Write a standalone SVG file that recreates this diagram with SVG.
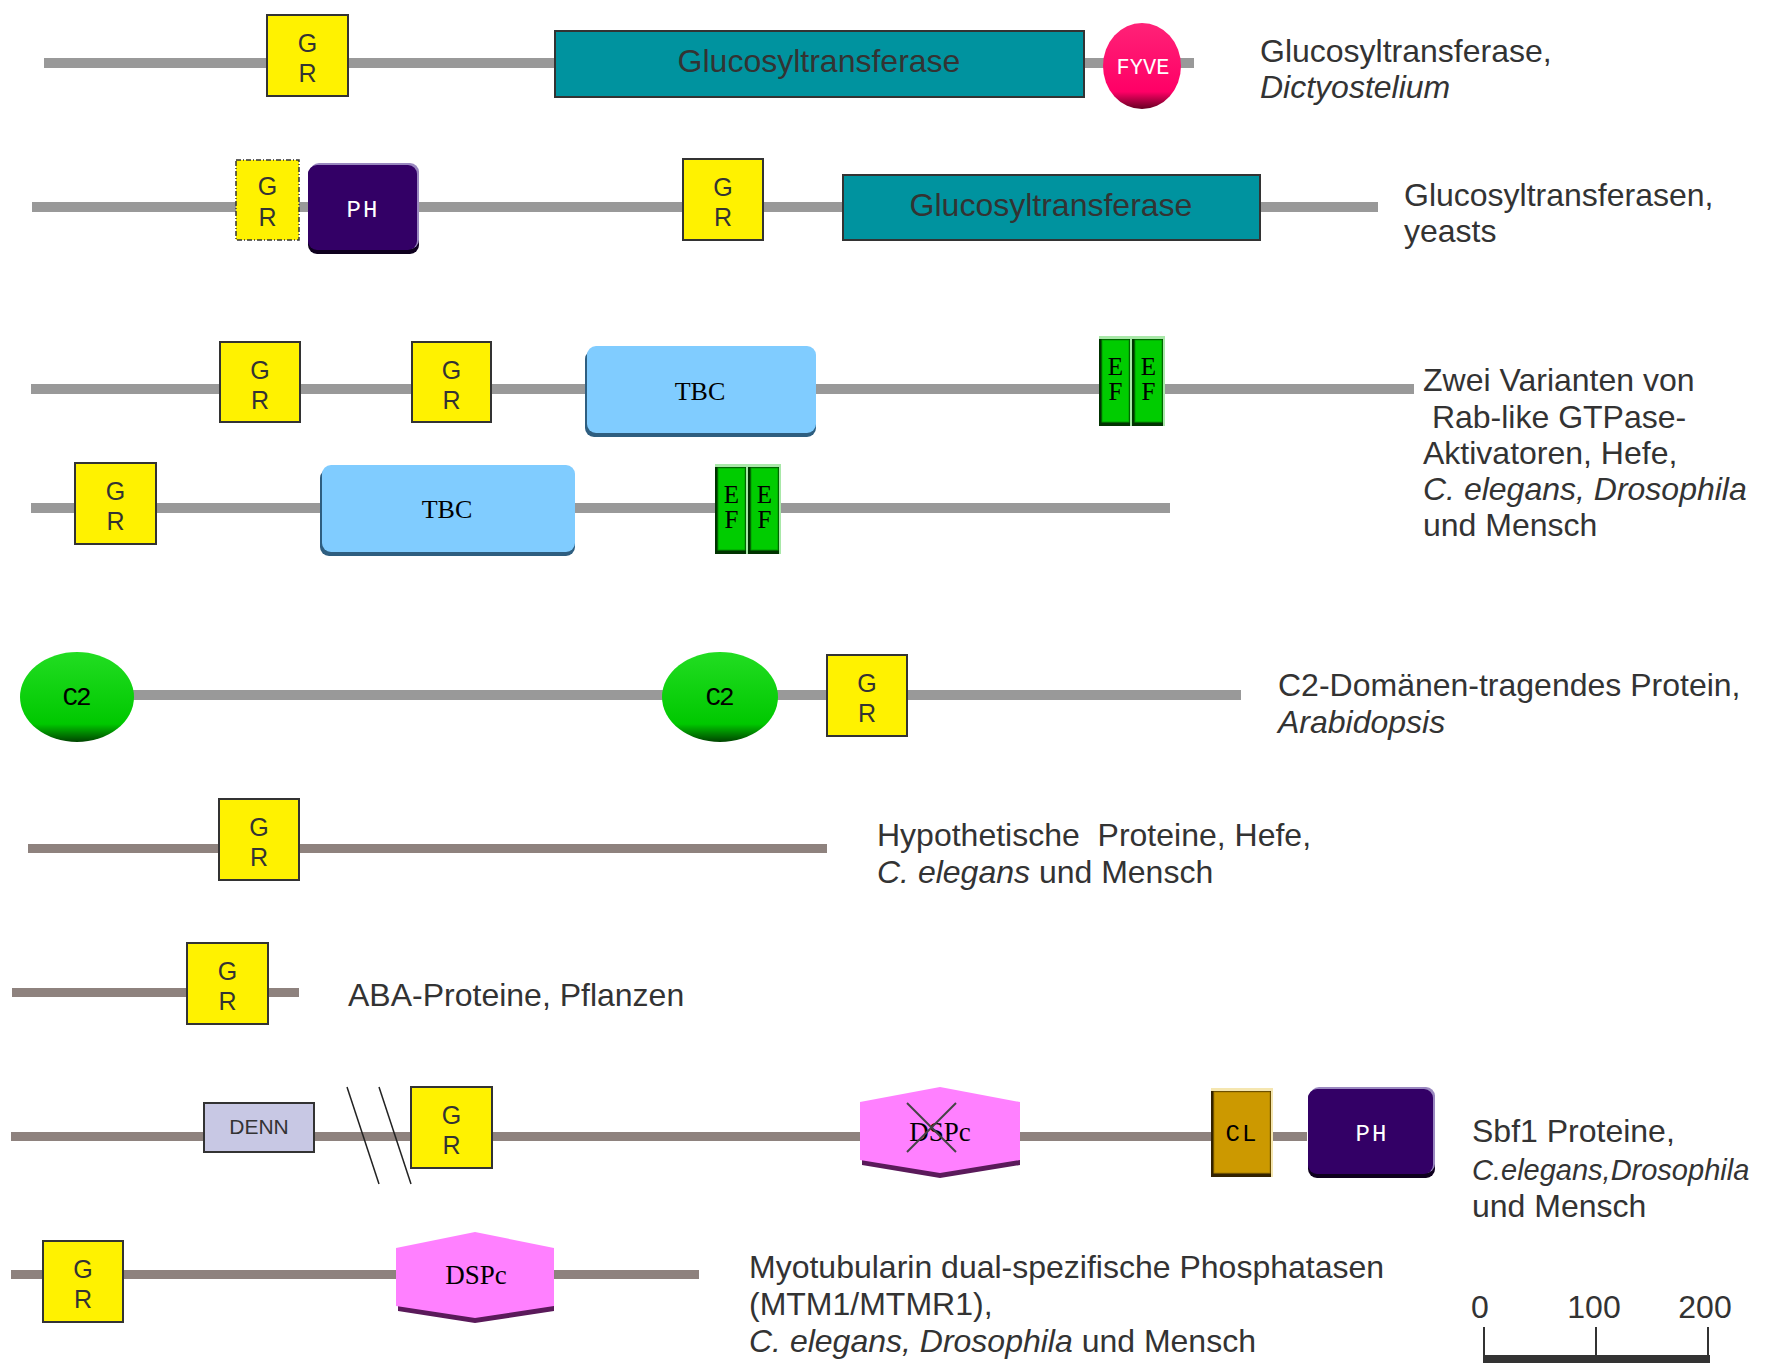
<svg xmlns="http://www.w3.org/2000/svg" width="1774" height="1371" viewBox="0 0 1774 1371">
<defs>
<style>
.lbl{font-family:"Liberation Sans",Arial,sans-serif;font-size:32px;fill:#333333;white-space:pre}
.it{font-style:italic}
.grbox{fill:#FFF200;stroke:#333333;stroke-width:2}
.grdash{fill:#FFF200;stroke:#333333;stroke-width:1.5;stroke-dasharray:5,2,1,2}
.grt{font-family:"Liberation Sans",Arial,sans-serif;font-size:25px;fill:#333333;text-anchor:middle}
.glu{fill:#00939F;stroke:#333333;stroke-width:2}
.glut{font-family:"Liberation Sans",Arial,sans-serif;font-size:32px;fill:#333333;text-anchor:middle}
.mono{font-family:"Liberation Mono","DejaVu Sans Mono",monospace;text-anchor:middle}
.ser{font-family:"Liberation Serif","Times New Roman",serif;text-anchor:middle;fill:#000000}
.bb1{fill:#999999}
.bb2{fill:#8E827E}
.tbcS{fill:#2E5E80}
.tbc{fill:#80CCFF}
.phS{fill:#0E001E}
.phL{fill:#9A88C0}
.ph{fill:#330066}
.dsS{fill:#5A1A5A}
.ds{fill:#FF80FF}
</style>
<linearGradient id="gGreen" x1="0" y1="0" x2="0" y2="1">
<stop offset="0" stop-color="#22DD22"/><stop offset="0.8" stop-color="#00C800"/><stop offset="1" stop-color="#004400"/>
</linearGradient>
<linearGradient id="gPink" x1="0" y1="0" x2="0" y2="1">
<stop offset="0" stop-color="#FF2277"/><stop offset="0.8" stop-color="#FF0066"/><stop offset="1" stop-color="#660022"/>
</linearGradient>
<g id="efHalf">
<rect x="0" y="0" width="33" height="90" fill="#A8E8A8"/>
<rect x="0" y="3" width="31" height="87" fill="#003300"/>
<rect x="3" y="4" width="27" height="82" fill="#00CC00" stroke="#009A00" stroke-width="1"/>
<text x="16.5" y="39" class="ser" font-size="25">E</text>
<text x="16.5" y="64" class="ser" font-size="25">F</text>
</g>
</defs>
<rect x="0" y="0" width="1774" height="1371" fill="#FFFFFF"/>

<g id="connectors">
<rect class="bb1" x="44" y="58" width="1150" height="10"/>
<rect class="bb1" x="32" y="202" width="1346" height="10"/>
<rect class="bb1" x="31" y="384" width="1383" height="10"/>
<rect class="bb1" x="31" y="503" width="1139" height="10"/>
<rect class="bb1" x="100" y="690" width="1141" height="10"/>
<rect class="bb2" x="28" y="844" width="799" height="9"/>
<rect class="bb2" x="12" y="988" width="287" height="9"/>
<rect class="bb2" x="11" y="1132" width="1296" height="9"/>
<rect class="bb2" x="11" y="1270" width="688" height="9"/>
<line x1="347" y1="1087" x2="379" y2="1184" stroke="#222222" stroke-width="1.5"/>
<line x1="379" y1="1087" x2="411" y2="1184" stroke="#222222" stroke-width="1.5"/>
</g>

<!-- Row 1 -->
<g id="r1-gr">
<rect class="grbox" x="267" y="15" width="81" height="81"/>
<text class="grt" x="307.5" y="52">G</text><text class="grt" x="307.5" y="82">R</text>
</g>
<g id="r1-gluco">
<rect class="glu" x="555" y="31" width="529" height="66"/>
<text class="glut" x="819" y="72">Glucosyltransferase</text>
</g>
<g id="r1-fyve">
<ellipse cx="1142" cy="66" rx="39" ry="43" fill="url(#gPink)"/>
<text class="mono" x="1143" y="74" font-size="22" fill="#FFFFFF">FYVE</text>
</g>
<g id="r1-label">
<text class="lbl" x="1260" y="62">Glucosyltransferase,</text>
<text class="lbl it" x="1260" y="98">Dictyostelium</text>
</g>

<!-- Row 2 -->
<g id="r2-gr-dashed">
<rect class="grdash" x="236" y="160" width="63" height="80"/>
<text class="grt" x="267.5" y="195">G</text><text class="grt" x="267.5" y="226">R</text>
</g>
<g id="r2-ph">
<rect class="phS" x="308" y="166" width="111" height="88" rx="9"/>
<rect class="phL" x="310" y="163" width="109" height="86" rx="9"/>
<rect class="ph" x="308" y="165" width="109" height="85" rx="9"/>
<text class="mono" x="363" y="217" font-size="24" fill="#FFFFFF" letter-spacing="2">PH</text>
</g>
<g id="r2-gr">
<rect class="grbox" x="683" y="159" width="80" height="81"/>
<text class="grt" x="723" y="196">G</text><text class="grt" x="723" y="226">R</text>
</g>
<g id="r2-gluco">
<rect class="glu" x="843" y="175" width="417" height="65"/>
<text class="glut" x="1051" y="216">Glucosyltransferase</text>
</g>
<g id="r2-label">
<text class="lbl" x="1404" y="206">Glucosyltransferasen,</text>
<text class="lbl" x="1404" y="242">yeasts</text>
</g>

<!-- Row 3 -->
<g id="r3-gr1">
<rect class="grbox" x="220" y="342" width="80" height="80"/>
<text class="grt" x="260" y="379">G</text><text class="grt" x="260" y="409">R</text>
</g>
<g id="r3-gr2">
<rect class="grbox" x="412" y="342" width="79" height="80"/>
<text class="grt" x="451.5" y="379">G</text><text class="grt" x="451.5" y="409">R</text>
</g>
<g id="r3-tbc">
<rect class="tbcS" x="585" y="350" width="231" height="87" rx="9"/>
<rect class="tbc" x="587" y="346" width="229" height="87" rx="9"/>
<text class="ser" x="700" y="400" font-size="26">TBC</text>
</g>
<g id="r3-ef">
<use href="#efHalf" x="1099" y="336"/>
<use href="#efHalf" x="1132" y="336"/>
</g>

<!-- Row 4 -->
<g id="r4-gr">
<rect class="grbox" x="75" y="463" width="81" height="81"/>
<text class="grt" x="115.5" y="500">G</text><text class="grt" x="115.5" y="530">R</text>
</g>
<g id="r4-tbc">
<rect class="tbcS" x="320" y="469" width="255" height="87" rx="9"/>
<rect class="tbc" x="322" y="465" width="253" height="87" rx="9"/>
<text class="ser" x="447" y="518" font-size="26">TBC</text>
</g>
<g id="r4-ef">
<use href="#efHalf" x="715" y="464"/>
<use href="#efHalf" x="748" y="464"/>
</g>
<g id="r34-label">
<text class="lbl" x="1423" y="391">Zwei Varianten von</text>
<text class="lbl" x="1423" y="428"> Rab-like GTPase-</text>
<text class="lbl" x="1423" y="464">Aktivatoren, Hefe,</text>
<text class="lbl it" x="1423" y="500">C. elegans, Drosophila</text>
<text class="lbl" x="1423" y="536">und Mensch</text>
</g>

<!-- Row 5 -->
<g id="r5-c2a">
<ellipse cx="77" cy="697" rx="57" ry="45" fill="url(#gGreen)"/>
<text class="mono" x="76" y="705" font-size="26" fill="#000000" letter-spacing="-2">C2</text>
</g>
<g id="r5-c2b">
<ellipse cx="720" cy="697" rx="58" ry="45" fill="url(#gGreen)"/>
<text class="mono" x="719" y="705" font-size="26" fill="#000000" letter-spacing="-2">C2</text>
</g>
<g id="r5-gr">
<rect class="grbox" x="827" y="655" width="80" height="81"/>
<text class="grt" x="867" y="692">G</text><text class="grt" x="867" y="722">R</text>
</g>
<g id="r5-label">
<text class="lbl" x="1278" y="696">C2-Domänen-tragendes Protein,</text>
<text class="lbl it" x="1278" y="733">Arabidopsis</text>
</g>

<!-- Row 6 -->
<g id="r6-gr">
<rect class="grbox" x="219" y="799" width="80" height="81"/>
<text class="grt" x="259" y="836">G</text><text class="grt" x="259" y="866">R</text>
</g>
<g id="r6-label">
<text class="lbl" x="877" y="846">Hypothetische  Proteine, Hefe,</text>
<text class="lbl" x="877" y="883"><tspan class="it">C. elegans</tspan> und Mensch</text>
</g>

<!-- Row 7 -->
<g id="r7-gr">
<rect class="grbox" x="187" y="943" width="81" height="81"/>
<text class="grt" x="227.5" y="980">G</text><text class="grt" x="227.5" y="1010">R</text>
</g>
<g id="r7-label">
<text class="lbl" x="348" y="1006">ABA-Proteine, Pflanzen</text>
</g>

<!-- Row 8 -->
<g id="r8-denn">
<rect x="204" y="1103" width="110" height="49" fill="#C8C8E4" stroke="#333333" stroke-width="2"/>
<text x="259" y="1134" font-family="Liberation Sans, Arial, sans-serif" font-size="21" fill="#333333" text-anchor="middle">DENN</text>
</g>
<g id="r8-gr">
<rect class="grbox" x="411" y="1087" width="81" height="81"/>
<text class="grt" x="451.5" y="1124">G</text><text class="grt" x="451.5" y="1154">R</text>
</g>
<g id="r8-dspc">
<polygon class="dsS" points="862,1106 940,1091 1020,1106 1020,1165 940,1178 862,1165"/>
<polygon class="ds" points="860,1102 940,1087 1020,1102 1020,1160 940,1173 860,1160"/>
<text class="ser" x="940" y="1141" font-size="27">DSPc</text>
<line x1="907" y1="1103" x2="956" y2="1152" stroke="#444444" stroke-width="2"/>
<line x1="956" y1="1103" x2="907" y2="1152" stroke="#444444" stroke-width="2"/>
</g>
<g id="r8-cl">
<rect x="1211" y="1088" width="62" height="89" fill="#F5E6B0"/>
<rect x="1211" y="1091" width="60" height="86" fill="#332200"/>
<rect x="1214" y="1092" width="56" height="81" fill="#CC9900" stroke="#A87E00" stroke-width="1"/>
<text class="mono" x="1242" y="1141" font-size="24" fill="#000000" letter-spacing="2">CL</text>
</g>
<g id="r8-ph">
<rect class="phS" x="1308" y="1090" width="127" height="88" rx="9"/>
<rect class="phL" x="1310" y="1087" width="125" height="86" rx="9"/>
<rect class="ph" x="1308" y="1089" width="125" height="85" rx="9"/>
<text class="mono" x="1372" y="1141" font-size="24" fill="#FFFFFF" letter-spacing="2">PH</text>
</g>
<g id="r8-label">
<text class="lbl" x="1472" y="1142">Sbf1 Proteine,</text>
<text class="lbl it" x="1472" y="1180" style="font-size:29px">C.elegans,Drosophila</text>
<text class="lbl" x="1472" y="1217">und Mensch</text>
</g>

<!-- Row 9 -->
<g id="r9-gr">
<rect class="grbox" x="43" y="1241" width="80" height="81"/>
<text class="grt" x="83" y="1278">G</text><text class="grt" x="83" y="1308">R</text>
</g>
<g id="r9-dspc">
<polygon class="dsS" points="398,1252 475,1236 554,1252 554,1311 475,1323 398,1311"/>
<polygon class="ds" points="396,1248 475,1232 554,1248 554,1306 475,1318 396,1306"/>
<text class="ser" x="476" y="1284" font-size="27">DSPc</text>
</g>
<g id="r9-label">
<text class="lbl" x="749" y="1278">Myotubularin dual-spezifische Phosphatasen</text>
<text class="lbl" x="749" y="1315">(MTM1/MTMR1),</text>
<text class="lbl" x="749" y="1352"><tspan class="it">C. elegans, Drosophila</tspan> und Mensch</text>
</g>

<!-- Scale bar -->
<g id="scale">
<text class="lbl" x="1480" y="1318" text-anchor="middle">0</text>
<text class="lbl" x="1594" y="1318" text-anchor="middle">100</text>
<text class="lbl" x="1705" y="1318" text-anchor="middle">200</text>
<line x1="1484" y1="1327" x2="1484" y2="1358" stroke="#333333" stroke-width="2"/>
<line x1="1596" y1="1327" x2="1596" y2="1358" stroke="#333333" stroke-width="2"/>
<line x1="1708" y1="1327" x2="1708" y2="1358" stroke="#333333" stroke-width="2"/>
<rect x="1483" y="1355" width="227" height="8" fill="#333333"/>
</g>
</svg>
